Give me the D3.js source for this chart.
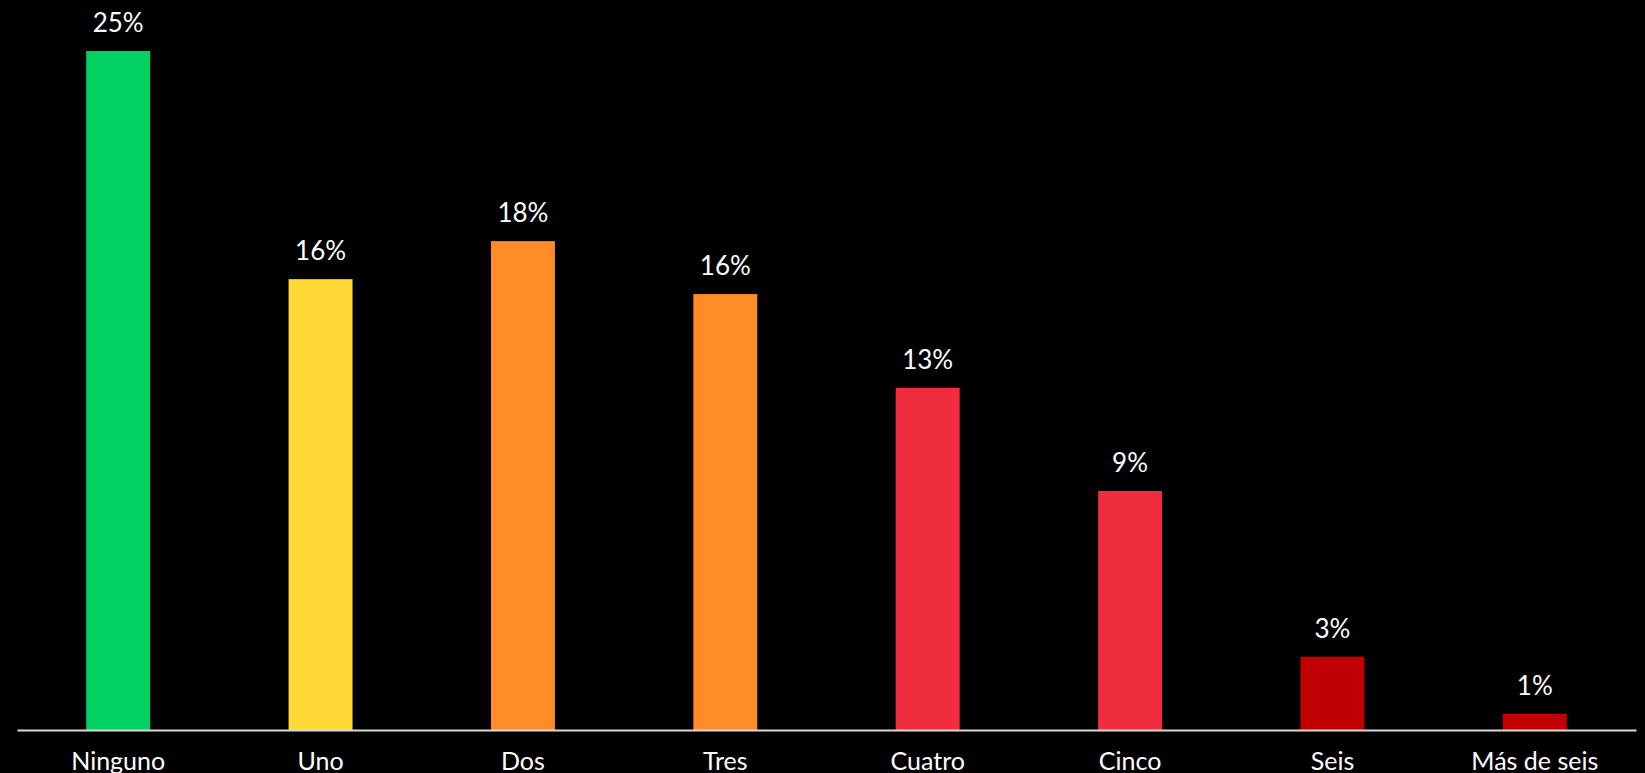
<!DOCTYPE html>
<html>
<head>
<meta charset="utf-8">
<script src="https://cdn.jsdelivr.net/npm/d3@7"></script>
<style>
  html, body { margin: 0; padding: 0; background: #000; overflow: hidden; }
</style>
</head>
<body>
<div class="canvas"></div>
<script>
// data
const categories = ['Ninguno', 'Uno', 'Dos', 'Tres', 'Cuatro', 'Cinco', 'Seis', 'Más de seis'];
const values = [25, 16.6, 18.0, 16.05, 12.6, 8.8, 2.7, 0.6];
const valueLabels = ['25%', '16%', '18%', '16%', '13%', '9%', '3%', '1%'];
const barColors = ['#02d162', '#ffd836', '#ff8c28', '#ff8c28', '#ef2d3e', '#ef2d3e', '#c00000', '#c00000'];

const width = 1645, height = 773;

const svg = d3.select('.canvas').append('svg')
  .attr('width', width)
  .attr('height', height)
  .style('display', 'block')
  .style('background', '#000');

// scales
const x = d3.scaleBand()
  .domain(categories)
  .range([17, 1636])
  .paddingInner(0.684)
  .paddingOuter(0.342);

const y = d3.scaleLinear()
  .domain([0, 25])
  .range([730, 51]);

// bars
svg.selectAll('rect.bar')
  .data(values)
  .enter()
  .append('rect')
  .attr('class', 'bar')
  .attr('x', (d, i) => x(categories[i]))
  .attr('y', d => y(d))
  .attr('width', x.bandwidth())
  .attr('height', d => y(0) - y(d))
  .attr('fill', (d, i) => barColors[i]);

// value labels
svg.selectAll('text.value')
  .data(values)
  .enter()
  .append('text')
  .attr('class', 'value')
  .attr('x', (d, i) => x(categories[i]) + x.bandwidth() / 2)
  .attr('y', d => y(d) - 19)
  .attr('text-anchor', 'middle')
  .attr('fill', '#fff')
  .style('font-family', 'Lato, sans-serif')
  .style('font-size', '26px')
  .text((d, i) => valueLabels[i]);

// x axis
const xAxis = svg.append('g')
  .attr('transform', `translate(0, ${y(0)})`)
  .call(d3.axisBottom(x).tickSize(0).tickPadding(0));

xAxis.select('.domain')
  .attr('stroke', '#d9d9d9')
  .attr('stroke-width', 2);

xAxis.selectAll('text')
  .attr('dy', null)
  .attr('y', 40)
  .attr('fill', '#fff')
  .style('font-family', 'Lato, sans-serif')
  .style('font-size', '25px');
</script>
</body>
</html>
